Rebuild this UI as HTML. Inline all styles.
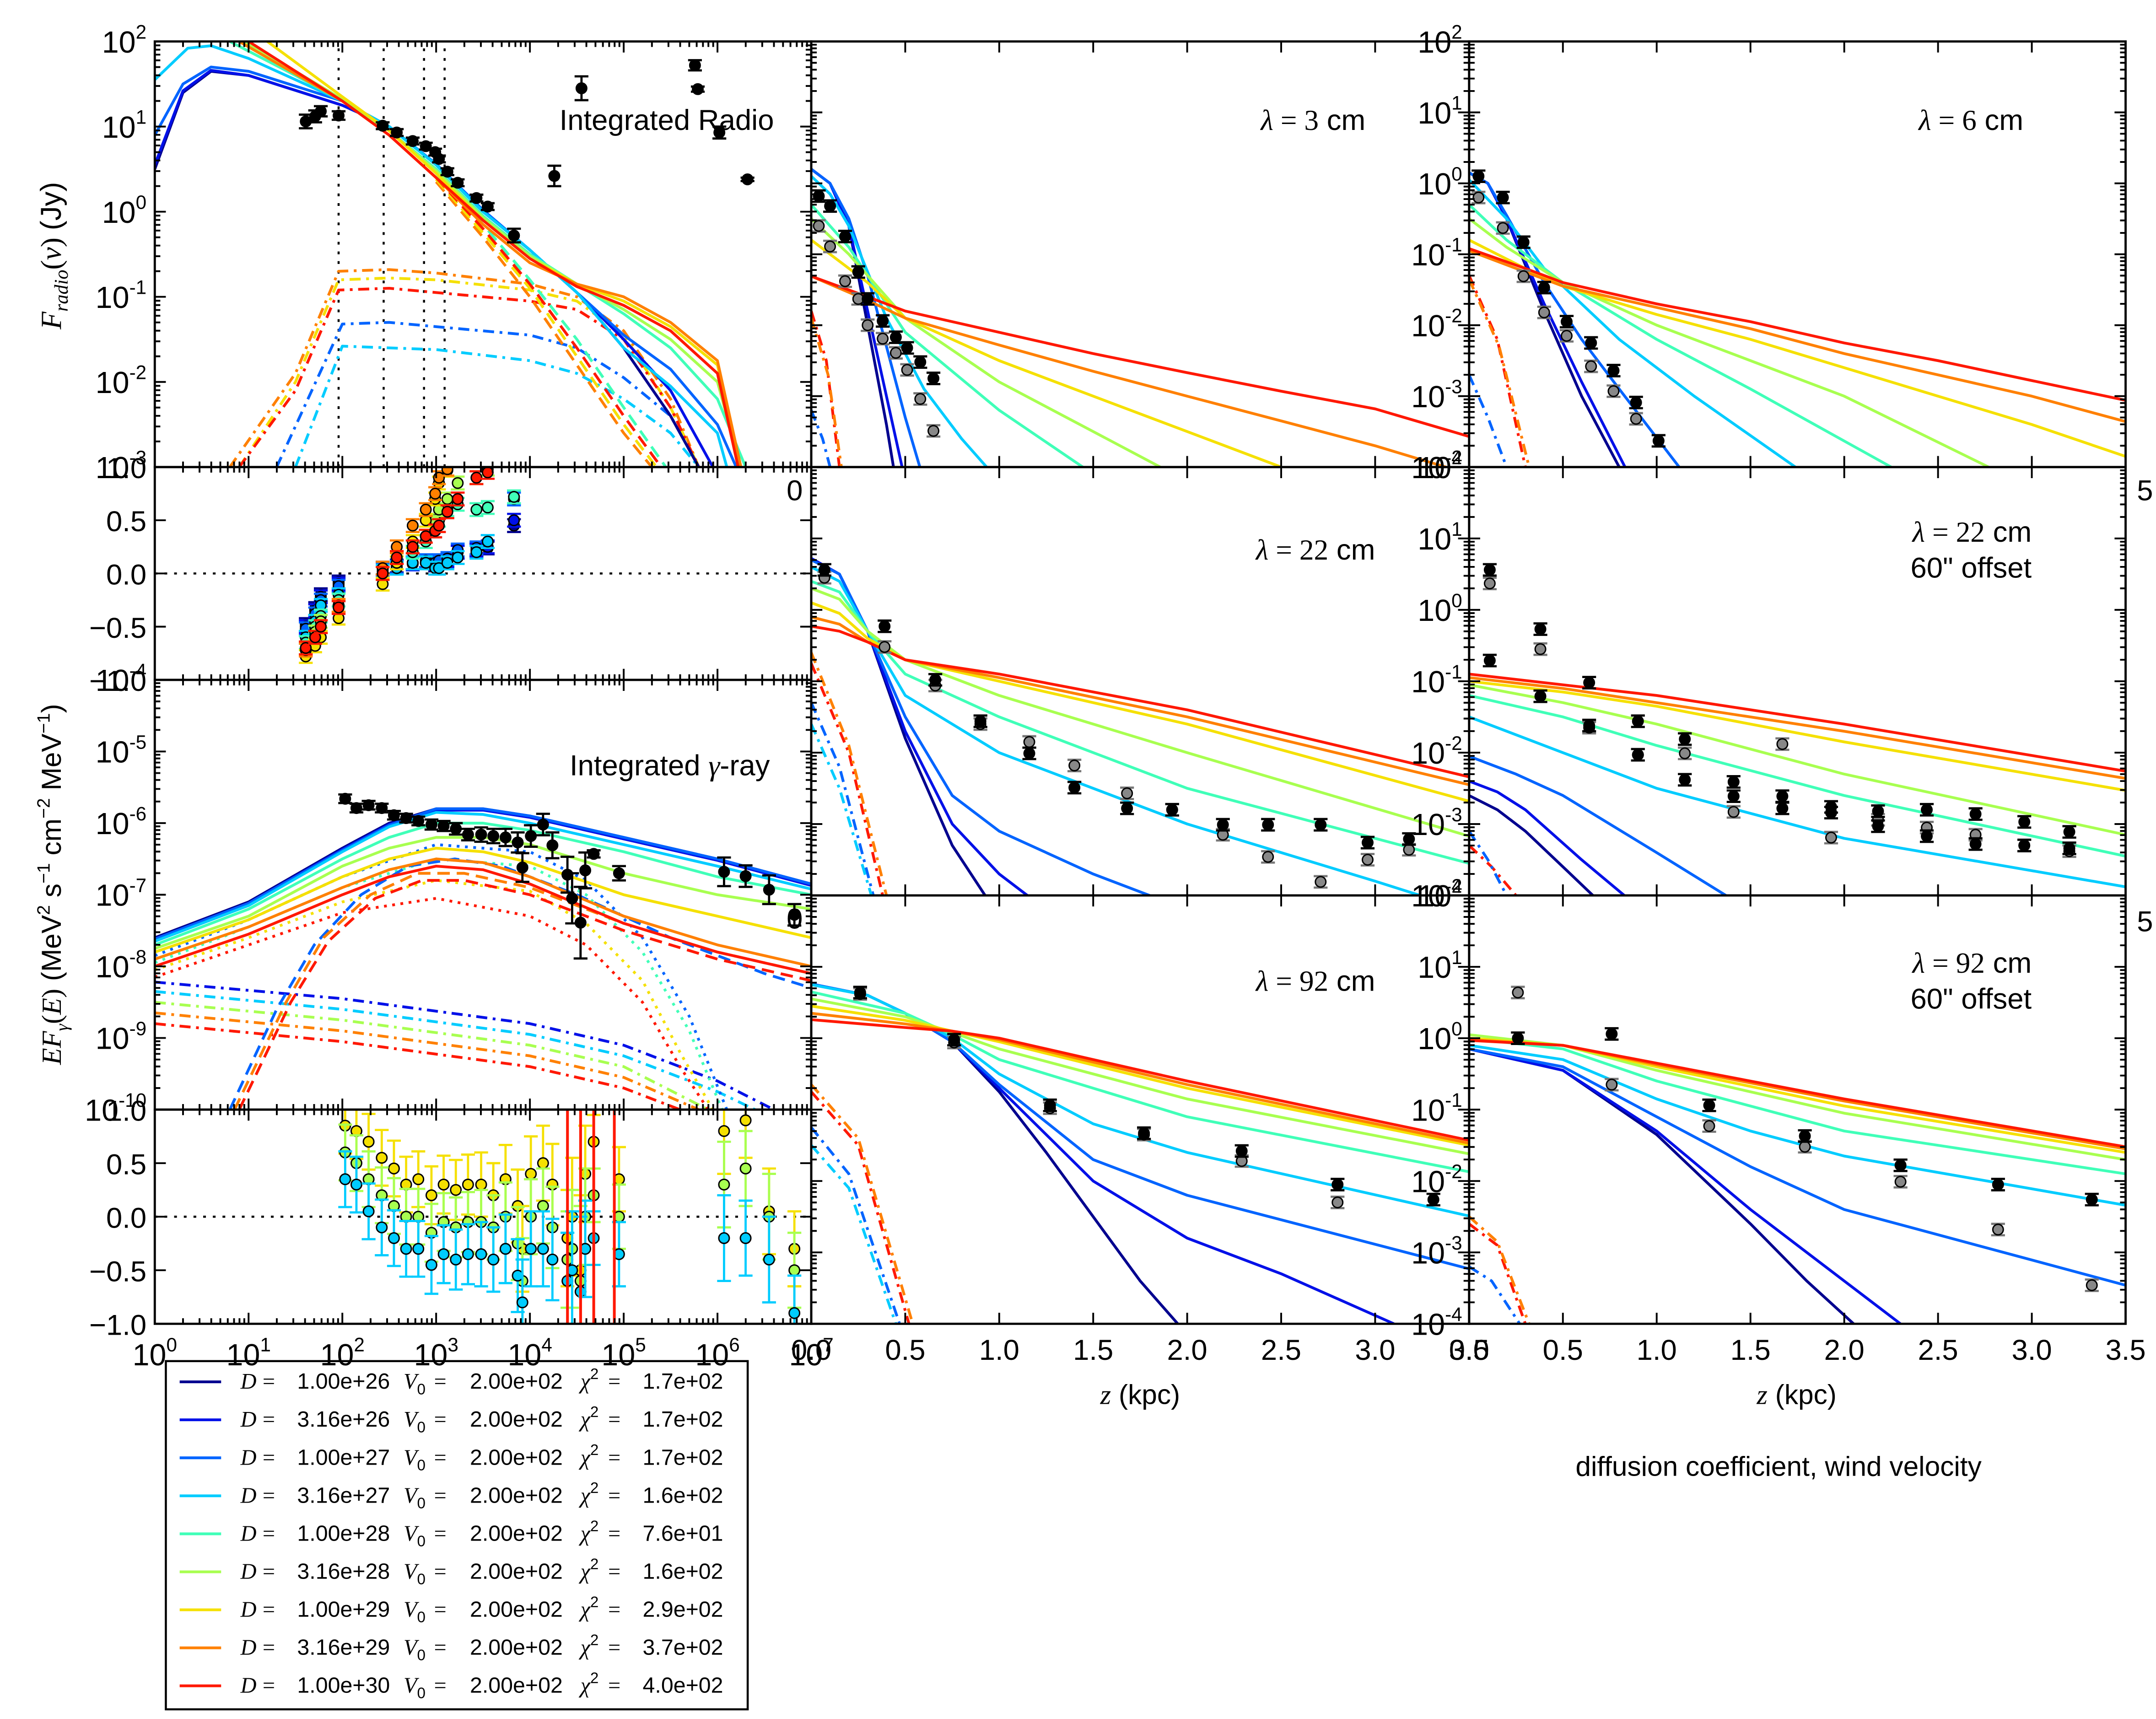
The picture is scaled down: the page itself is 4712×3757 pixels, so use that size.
<!DOCTYPE html>
<html><head><meta charset="utf-8"><style>
html,body{margin:0;padding:0;background:#fff;}
svg{display:block;font-family:"Liberation Sans","DejaVu Sans",sans-serif;}
</style></head><body>
<svg id="fig" xmlns="http://www.w3.org/2000/svg" width="4712" height="3757" viewBox="0 0 1560 1244" preserveAspectRatio="none">
<rect x="0" y="0" width="1560" height="1244" fill="#fff"/>
<defs id="defs"></defs>
<text transform="translate(44,185) rotate(-90)" text-anchor="middle" font-size="21" font-family="Liberation Serif,serif"><tspan font-style="italic">F</tspan><tspan font-style="italic" font-size="14" dy="5">radio</tspan><tspan dy="-5">(</tspan><tspan font-style="italic">ν</tspan>) <tspan font-family="Liberation Sans,sans-serif">(Jy)</tspan></text>
<text transform="translate(44,640) rotate(-90)" text-anchor="middle" font-size="20"><tspan font-family="Liberation Serif,serif" font-style="italic">EF</tspan><tspan font-family="Liberation Serif,serif" font-style="italic" font-size="13" dy="5">γ</tspan><tspan dy="-5" font-family="Liberation Serif,serif">(</tspan><tspan font-family="Liberation Serif,serif" font-style="italic">E</tspan><tspan font-family="Liberation Serif,serif">)</tspan>   (MeV<tspan font-size="13" dy="-8">2</tspan><tspan dy="8"> s</tspan><tspan font-size="13" dy="-8">−1</tspan><tspan dy="8"> cm</tspan><tspan font-size="13" dy="-8">−2</tspan><tspan dy="8"> MeV</tspan><tspan font-size="13" dy="-8">−1</tspan><tspan dy="8">)</tspan></text>
<text x="560" y="94" text-anchor="end" font-size="21">Integrated Radio</text>
<text x="557" y="561" text-anchor="end" font-size="21">Integrated <tspan font-family="Liberation Serif,serif" font-style="italic">γ</tspan>-ray</text>
<text x="988" y="94" text-anchor="end" font-size="21"><tspan font-family="Liberation Serif,serif" font-style="italic">λ</tspan><tspan font-family="Liberation Serif,serif"> = 3</tspan> cm</text>
<text x="1464" y="94" text-anchor="end" font-size="21"><tspan font-family="Liberation Serif,serif" font-style="italic">λ</tspan><tspan font-family="Liberation Serif,serif"> = 6</tspan> cm</text>
<text x="995" y="405" text-anchor="end" font-size="21"><tspan font-family="Liberation Serif,serif" font-style="italic">λ</tspan><tspan font-family="Liberation Serif,serif"> = 22</tspan> cm</text>
<text x="1470" y="392" text-anchor="end" font-size="21"><tspan font-family="Liberation Serif,serif" font-style="italic">λ</tspan><tspan font-family="Liberation Serif,serif"> = 22</tspan> cm</text>
<text x="1470" y="418" text-anchor="end" font-size="21">60" offset</text>
<text x="995" y="717" text-anchor="end" font-size="21"><tspan font-family="Liberation Serif,serif" font-style="italic">λ</tspan><tspan font-family="Liberation Serif,serif"> = 92</tspan> cm</text>
<text x="1470" y="704" text-anchor="end" font-size="21"><tspan font-family="Liberation Serif,serif" font-style="italic">λ</tspan><tspan font-family="Liberation Serif,serif"> = 92</tspan> cm</text>
<text x="1470" y="730" text-anchor="end" font-size="21">60" offset</text>
<text x="825" y="1016" text-anchor="middle" font-size="20"><tspan font-family="Liberation Serif,serif" font-style="italic">z</tspan> (kpc)</text>
<text x="1300" y="1016" text-anchor="middle" font-size="20"><tspan font-family="Liberation Serif,serif" font-style="italic">z</tspan> (kpc)</text>
<text x="1140" y="1068" font-size="20">diffusion coefficient, wind velocity</text>
<g id="legend">
<rect x="120" y="985" width="421" height="252" fill="#fff" stroke="#000" stroke-width="1.5"/>
</g>
</svg>
<script>
const NS='http://www.w3.org/2000/svg';
const svg=document.getElementById('fig');
const defs=document.getElementById('defs');
const colors=['#00008f','#0010e8','#0064ff','#00ccff','#40ffb8','#a8ff50','#f5e000','#ff8000','#ff1800'];
const Dvals=['1.00e+26','3.16e+26','1.00e+27','3.16e+27','1.00e+28','3.16e+28','1.00e+29','3.16e+29','1.00e+30'];
const chi2=['1.7e+02','1.7e+02','1.7e+02','1.6e+02','7.6e+01','1.6e+02','2.9e+02','3.7e+02','4.0e+02'];

const radModels=[
 [[0,0.5],[0.3,1.4],[0.6,1.65],[1,1.6],[2,1.25],[2.5,1.0],[3,0.55],[3.5,0.0],[4,-0.45],[4.5,-0.95],[5,-1.6],[5.5,-2.4],[5.8,-3]],
 [[0,0.55],[0.3,1.42],[0.6,1.66],[1,1.6],[2,1.25],[2.5,1.0],[3,0.55],[3.5,0.0],[4,-0.45],[4.5,-0.95],[5,-1.5],[5.5,-2.1],[5.95,-3]],
 [[0,0.9],[0.3,1.5],[0.6,1.7],[1,1.65],[2,1.3],[2.5,1.0],[3,0.56],[3.5,0.02],[4,-0.45],[4.5,-0.95],[5,-1.45],[5.5,-1.85],[6,-2.5],[6.2,-3]],
 [[0,1.55],[0.35,1.92],[0.6,1.95],[1,1.8],[2,1.3],[2.5,1.0],[3,0.55],[3.5,0.0],[4,-0.45],[4.5,-0.95],[5,-1.6],[5.5,-2.05],[6,-2.6],[6.1,-3]],
 [[0.8,2],[1.5,1.6],[2,1.3],[2.5,0.95],[3,0.5],[3.5,-0.05],[4,-0.5],[4.5,-0.85],[5,-1.2],[5.5,-1.6],[6,-2.2],[6.3,-3]],
 [[0.95,2],[1.5,1.65],[2,1.32],[2.5,0.95],[3,0.48],[3.5,-0.07],[4,-0.52],[4.5,-0.85],[5,-1.15],[5.5,-1.5],[6,-2.0],[6.25,-3]],
 [[1.2,2],[2,1.35],[2.5,0.95],[3,0.45],[3.5,-0.1],[4,-0.55],[4.5,-0.85],[5,-1.05],[5.5,-1.35],[6,-1.8],[6.25,-3]],
 [[0.9,2],[2,1.3],[2.5,0.9],[3,0.4],[3.5,-0.15],[4,-0.6],[4.5,-0.85],[5,-1.0],[5.5,-1.3],[6,-1.75],[6.25,-3]],
 [[1.0,2],[2,1.3],[2.5,0.9],[3,0.4],[3.5,-0.1],[4,-0.55],[4.5,-0.88],[5,-1.1],[5.5,-1.4],[6,-1.9],[6.22,-3]]
];
const radDashDot=[
 {c:7,p:[[0.8,-3],[1.5,-1.9],[1.96,-0.7],[2.5,-0.68],[3,-0.72],[4,-0.85],[4.5,-1.0],[5,-1.4],[5.5,-2.2],[5.8,-3]]},
 {c:6,p:[[0.9,-3],[1.5,-2.0],[1.96,-0.8],[2.5,-0.78],[3,-0.8],[4,-0.92],[4.5,-1.05],[5,-1.45],[5.5,-2.3],[5.8,-3]]},
 {c:8,p:[[0.9,-3],[1.5,-2.1],[1.96,-0.92],[2.5,-0.9],[3,-0.95],[4,-1.05],[4.5,-1.15],[5,-1.5],[5.5,-2.3],[5.8,-3]]},
 {c:2,p:[[1.3,-3],[2,-1.32],[2.5,-1.3],[3,-1.35],[4,-1.45],[4.5,-1.6],[5,-1.95],[5.5,-2.4],[5.8,-3]]},
 {c:3,p:[[1.5,-3],[2,-1.58],[3,-1.62],[4,-1.75],[4.5,-1.9],[5,-2.2],[5.5,-2.6],[5.8,-3]]}
];
const radDashed=[
 {c:7,p:[[3,0.35],[3.5,-0.3],[4,-1.0],[4.5,-1.8],[5,-2.6],[5.3,-3]]},
 {c:6,p:[[3,0.38],[3.5,-0.25],[4,-0.9],[4.5,-1.7],[5,-2.5],[5.35,-3]]},
 {c:8,p:[[3,0.4],[3.5,-0.2],[4,-0.85],[4.5,-1.6],[5,-2.4],[5.4,-3]]},
 {c:4,p:[[3,0.45],[3.5,-0.15],[4,-0.8],[4.5,-1.5],[5,-2.3],[5.45,-3]]}
];
const radDataX=[1.61,1.71,1.77,1.96,2.43,2.58,2.75,2.89,2.99,3.03,3.12,3.23,3.43,3.55,3.83,4.26,4.55,5.76,5.79,6.02,6.32];
const radDataY=[1.06,1.12,1.18,1.13,1.01,0.93,0.83,0.77,0.70,0.62,0.47,0.34,0.16,0.06,-0.28,0.42,1.45,1.72,1.44,0.93,0.38];
const radDataErr=[0.08,0.07,0.06,0.05,0.04,0.04,0.04,0.04,0.04,0.04,0.04,0.04,0.04,0.04,0.08,0.12,0.14,0.06,0.03,0.07,0.02];
const radLines=[1.96,2.44,2.87,3.09];

const radResX=[1.61,1.71,1.77,1.96,2.43,2.58,2.75,2.89,2.99,3.03,3.12,3.23,3.43,3.55,3.83];
const radRes=[
 [-0.48,-0.33,-0.2,-0.08,0.05,0.07,0.1,0.1,0.08,0.1,0.12,0.2,0.22,0.24,0.45],
 [-0.5,-0.35,-0.22,-0.1,0.05,0.06,0.09,0.1,0.1,0.1,0.12,0.2,0.22,0.25,0.5],
 [-0.52,-0.38,-0.25,-0.12,0.04,0.06,0.1,0.12,0.1,0.12,0.14,0.22,0.24,0.3,0.7],
 [-0.6,-0.45,-0.3,-0.2,0.02,0.05,0.1,0.1,0.05,0.05,0.1,0.15,0.2,0.3,0.72],
 [-0.65,-0.5,-0.4,-0.25,0.0,0.1,0.2,0.3,0.4,0.5,0.6,0.65,0.6,0.62,0.72],
 [-0.7,-0.55,-0.45,-0.3,0.0,0.15,0.25,0.35,0.5,0.6,0.7,0.85,0.9,0.98,1.2],
 [-0.78,-0.68,-0.6,-0.42,-0.1,0.1,0.3,0.5,0.7,0.85,0.97,1.1,1.2,1.2,1.3],
 [-0.72,-0.6,-0.5,-0.3,0.05,0.25,0.45,0.6,0.75,0.9,0.98,1.1,1.2,1.3,1.4],
 [-0.7,-0.6,-0.5,-0.32,0.0,0.15,0.25,0.35,0.4,0.45,0.58,0.7,0.9,0.95,1.2]
];

const gamModels=[
 [[0,-7.6],[1,-7.1],[2,-6.35],[2.5,-6.0],[3,-5.8],[3.5,-5.8],[4,-5.9],[5,-6.2],[6,-6.5],[7,-6.85]],
 [[0,-7.62],[1,-7.12],[2,-6.37],[2.5,-6.02],[3,-5.82],[3.5,-5.82],[4,-5.92],[5,-6.22],[6,-6.52],[7,-6.87]],
 [[0,-7.62],[1,-7.12],[2,-6.38],[2.5,-6.03],[3,-5.8],[3.5,-5.8],[4,-5.9],[5,-6.2],[6,-6.5],[7,-6.85]],
 [[0,-7.65],[1,-7.15],[2,-6.4],[2.5,-6.05],[3,-5.85],[3.5,-5.88],[4,-6.0],[5,-6.3],[6,-6.6],[7,-6.92]],
 [[0,-7.7],[1,-7.2],[2,-6.5],[2.5,-6.2],[3,-6.0],[3.5,-6.0],[4,-6.1],[5,-6.4],[6,-6.75],[7,-7.0]],
 [[0,-7.75],[1,-7.3],[2,-6.6],[2.5,-6.35],[3,-6.2],[3.5,-6.2],[4,-6.3],[5,-6.7],[6,-7.0],[7,-7.2]],
 [[0,-7.8],[1,-7.35],[2,-6.75],[2.5,-6.5],[3,-6.35],[3.5,-6.4],[4,-6.55],[5,-7.0],[6,-7.3],[7,-7.6]],
 [[0,-7.9],[1,-7.45],[2,-6.9],[2.5,-6.65],[3,-6.5],[3.5,-6.55],[4,-6.75],[5,-7.3],[6,-7.7],[7,-8.0]],
 [[0,-8.0],[1,-7.55],[2,-7.0],[2.5,-6.75],[3,-6.6],[3.5,-6.65],[4,-6.85],[5,-7.4],[6,-7.8],[7,-8.1]]
];
const gamPion=[
 {c:2,p:[[0.8,-10],[1.3,-8.6],[1.7,-7.7],[2.2,-7.0],[2.7,-6.6],[3.2,-6.5],[3.7,-6.6],[4.5,-7.0],[5.5,-7.6],[6.5,-8.1],[7,-8.3]]},
 {c:7,p:[[0.85,-10],[1.4,-8.5],[1.8,-7.6],[2.3,-7.0],[2.8,-6.7],[3.3,-6.7],[4,-6.9],[5,-7.4],[6,-7.8],[7,-8.1]]},
 {c:8,p:[[0.9,-10],[1.45,-8.5],[1.85,-7.65],[2.35,-7.05],[2.85,-6.8],[3.3,-6.8],[4,-7.0],[5,-7.5],[6,-7.9],[7,-8.2]]}
];
const gamIC=[
 {c:2,p:[[0,-7.85],[1,-7.35],[2,-6.75],[3,-6.3],[4,-6.4],[4.6,-6.8],[5.2,-7.6],[5.7,-8.7],[6.1,-10]]},
 {c:4,p:[[0,-7.95],[1,-7.45],[2,-6.9],[3,-6.5],[4,-6.6],[4.6,-7.0],[5.2,-7.8],[5.7,-8.9],[6.05,-10]]},
 {c:6,p:[[0,-8.05],[1,-7.6],[2,-7.1],[3,-6.8],[4,-6.95],[4.6,-7.4],[5.2,-8.2],[5.6,-9.2],[5.95,-10]]},
 {c:8,p:[[0,-8.15],[1,-7.7],[2,-7.25],[3,-7.05],[4,-7.3],[4.6,-7.7],[5.2,-8.5],[5.6,-9.4],[5.9,-10]]}
];
const gamBrems=[
 {c:1,p:[[0,-8.22],[2,-8.45],[4,-8.8],[5,-9.1],[6,-9.6],[6.6,-10]]},
 {c:3,p:[[0,-8.35],[2,-8.6],[4,-8.95],[5,-9.25],[6,-9.75],[6.4,-10]]},
 {c:5,p:[[0,-8.5],[2,-8.75],[4,-9.1],[5,-9.4],[5.9,-10]]},
 {c:7,p:[[0,-8.65],[2,-8.9],[4,-9.25],[5,-9.55],[5.8,-10]]},
 {c:8,p:[[0,-8.8],[2,-9.05],[4,-9.4],[5,-9.7],[5.6,-10]]}
];
const gDataX=[2.03,2.15,2.28,2.42,2.55,2.68,2.81,2.95,3.08,3.21,3.34,3.48,3.61,3.74,3.87,3.92,4.01,4.14,4.24,4.40,4.45,4.54,4.59,4.68,4.95,6.07,6.30,6.55,6.82];
const gDataY=[-5.66,-5.79,-5.75,-5.79,-5.89,-5.93,-5.97,-6.02,-6.04,-6.08,-6.16,-6.16,-6.18,-6.20,-6.27,-6.62,-6.18,-6.02,-6.31,-6.72,-7.05,-7.39,-6.66,-6.43,-6.70,-6.68,-6.74,-6.93,-7.28];
const gDataErr=[0.06,0.06,0.06,0.06,0.06,0.06,0.06,0.07,0.07,0.08,0.08,0.1,0.1,0.12,0.14,0.2,0.15,0.15,0.18,0.25,0.35,0.5,0.25,0.05,0.1,0.2,0.15,0.2,0.15];
const gResBlue=[0.35,0.3,0.05,-0.1,-0.2,-0.3,-0.3,-0.45,-0.35,-0.4,-0.35,-0.35,-0.4,-0.3,-0.55,-0.8,-0.3,-0.3,-0.4,-0.6,-0.5,-0.7,-0.3,-0.2,-0.35,-0.2,-0.2,-0.4,-0.9];
const gResGreen=[0.6,0.5,0.35,0.2,0.1,0.0,0.0,-0.15,-0.05,-0.1,-0.05,-0.05,-0.1,0.0,-0.25,-0.6,0.0,0.1,-0.1,-0.4,-0.3,-0.6,0.0,0.2,0.0,0.3,0.45,0.0,-0.5];
const gResYellow=[0.85,0.8,0.7,0.55,0.45,0.3,0.35,0.2,0.3,0.25,0.3,0.3,0.2,0.35,0.1,-0.3,0.4,0.5,0.3,-0.2,0.0,-0.5,0.4,0.7,0.35,0.8,0.9,0.05,-0.3];

const prof3=[
 [[0,0.2],[0.1,0.0],[0.2,-0.6],[0.3,-2.0],[0.4,-3.4],[0.45,-4.2]],
 [[0,0.2],[0.1,0.0],[0.2,-0.6],[0.3,-1.8],[0.4,-3.0],[0.5,-4.2]],
 [[0,0.2],[0.1,0.0],[0.2,-0.5],[0.3,-1.3],[0.4,-2.3],[0.5,-3.3],[0.6,-4.2]],
 [[0,0.1],[0.1,-0.15],[0.2,-0.6],[0.4,-1.9],[0.6,-2.9],[0.8,-3.6],[1.0,-4.2]],
 [[0,-0.3],[0.2,-0.9],[0.5,-2.1],[1.0,-3.2],[1.5,-4.1]],
 [[0,-0.5],[0.2,-1.0],[0.5,-1.9],[1.0,-2.8],[1.5,-3.5],[2.0,-4.2]],
 [[0,-0.8],[0.3,-1.4],[0.5,-1.9],[1.0,-2.5],[1.5,-3.0],[2.0,-3.5],[2.5,-4.0],[3.0,-4.5]],
 [[0,-1.31],[0.3,-1.65],[0.5,-1.9],[1.0,-2.28],[1.5,-2.65],[2.0,-3.0],[2.5,-3.35],[3.0,-3.7],[3.5,-4.1]],
 [[0,-1.31],[0.3,-1.6],[0.5,-1.8],[1.0,-2.1],[1.5,-2.4],[2.0,-2.67],[2.5,-2.93],[3.0,-3.18],[3.5,-3.57]]
];
const prof6=[
 [[0,0.15],[0.1,0.0],[0.2,-0.5],[0.4,-1.8],[0.6,-3.0],[0.82,-4.1]],
 [[0,0.15],[0.1,0.0],[0.2,-0.5],[0.4,-1.7],[0.6,-2.8],[0.85,-4.1]],
 [[0,0.15],[0.1,0.0],[0.2,-0.45],[0.4,-1.4],[0.6,-2.2],[0.8,-2.9],[1.12,-4.0]],
 [[0,0.05],[0.2,-0.5],[0.4,-1.2],[0.8,-2.2],[1.2,-3.0],[1.74,-4.0]],
 [[0,-0.3],[0.2,-0.8],[0.5,-1.4],[1.0,-2.2],[1.5,-2.9],[2.25,-4.0]],
 [[0,-0.5],[0.2,-0.9],[0.5,-1.4],[1.0,-2.0],[1.5,-2.5],[2.0,-3.0],[2.77,-4.0]],
 [[0,-0.8],[0.3,-1.2],[0.5,-1.45],[1.0,-1.85],[1.5,-2.2],[2.0,-2.6],[2.5,-3.0],[3.0,-3.4],[3.5,-3.85]],
 [[0,-0.95],[0.3,-1.25],[0.5,-1.45],[1.0,-1.75],[1.5,-2.05],[2.0,-2.4],[2.5,-2.7],[3.0,-3.0],[3.5,-3.36]],
 [[0,-0.92],[0.3,-1.2],[0.5,-1.4],[1.0,-1.7],[1.5,-1.95],[2.0,-2.25],[2.5,-2.5],[3.0,-2.78],[3.5,-3.06]]
];
const prof22=[
 [[0,0.72],[0.15,0.5],[0.3,-0.3],[0.5,-1.8],[0.75,-3.3],[0.95,-4.1]],
 [[0,0.72],[0.15,0.5],[0.3,-0.3],[0.5,-1.7],[0.75,-3.0],[1.0,-3.7],[1.2,-4.1]],
 [[0,0.7],[0.15,0.5],[0.3,-0.3],[0.5,-1.5],[0.75,-2.6],[1.0,-3.1],[1.5,-3.7],[1.85,-4.05]],
 [[0,0.6],[0.15,0.4],[0.3,-0.3],[0.5,-1.2],[1.0,-2.0],[2.0,-3.0],[3.0,-3.8],[3.3,-4.05]],
 [[0,0.4],[0.15,0.25],[0.3,-0.3],[0.5,-0.9],[1.0,-1.5],[2.0,-2.5],[3.5,-3.55]],
 [[0,0.3],[0.15,0.15],[0.3,-0.3],[0.5,-0.7],[1.0,-1.2],[2.0,-2.0],[3.5,-3.17]],
 [[0,0.1],[0.15,-0.05],[0.3,-0.4],[0.5,-0.7],[1.0,-1.0],[2.0,-1.6],[3.5,-2.68]],
 [[0,-0.1],[0.15,-0.2],[0.3,-0.45],[0.5,-0.7],[1.0,-0.95],[2.0,-1.5],[3.5,-2.45]],
 [[0,-0.23],[0.15,-0.3],[0.3,-0.45],[0.5,-0.7],[1.0,-0.9],[2.0,-1.4],[3.5,-2.34]]
];
const prof22o=[
 [[0,-2.6],[0.15,-2.8],[0.3,-3.1],[0.5,-3.6],[0.7,-4.1]],
 [[0,-2.4],[0.15,-2.55],[0.3,-2.8],[0.6,-3.5],[0.85,-4.05]],
 [[0,-2.05],[0.25,-2.3],[0.5,-2.6],[1.0,-3.4],[1.4,-4.05]],
 [[0,-1.5],[0.5,-2.0],[1.0,-2.5],[2.0,-3.2],[3.5,-3.88]],
 [[0,-1.2],[0.5,-1.5],[1.0,-1.9],[2.0,-2.6],[3.5,-3.45]],
 [[0,-1.05],[0.5,-1.3],[1.0,-1.6],[2.0,-2.3],[3.5,-3.15]],
 [[0,-1.0],[0.5,-1.15],[1.0,-1.35],[2.0,-1.85],[3.5,-2.53]],
 [[0,-0.95],[0.5,-1.1],[1.0,-1.3],[2.0,-1.7],[3.5,-2.36]],
 [[0,-0.9],[0.5,-1.05],[1.0,-1.2],[2.0,-1.6],[3.5,-2.26]]
];
const prof92=[
 [[0,0.76],[0.3,0.6],[0.5,0.35],[0.75,-0.05],[1.0,-0.75],[1.25,-1.6],[1.5,-2.5],[1.75,-3.4],[1.95,-4.0]],
 [[0,0.76],[0.3,0.6],[0.5,0.35],[0.75,-0.05],[1.0,-0.7],[1.5,-2.0],[2.0,-2.8],[2.5,-3.3],[3.1,-4.0]],
 [[0,0.76],[0.3,0.6],[0.5,0.35],[0.75,-0.05],[1.0,-0.65],[1.5,-1.7],[2.0,-2.2],[3.5,-3.23]],
 [[0,0.75],[0.3,0.6],[0.5,0.35],[0.75,0.0],[1.0,-0.5],[1.5,-1.2],[2.0,-1.6],[3.5,-2.49]],
 [[0,0.65],[0.5,0.35],[0.75,0.05],[1.0,-0.3],[2.0,-1.1],[3.5,-1.87]],
 [[0,0.55],[0.5,0.3],[0.75,0.08],[1.0,-0.15],[2.0,-0.85],[3.5,-1.62]],
 [[0,0.45],[0.5,0.25],[0.75,0.1],[1.0,-0.05],[2.0,-0.7],[3.5,-1.5]],
 [[0,0.35],[0.5,0.2],[0.75,0.1],[1.0,-0.02],[2.0,-0.65],[3.5,-1.47]],
 [[0,0.26],[0.5,0.15],[0.75,0.1],[1.0,0.0],[2.0,-0.6],[3.5,-1.43]]
];
const prof92o=[
 [[0,-0.15],[0.5,-0.45],[1.0,-1.35],[1.5,-2.6],[1.8,-3.4],[2.05,-4.0]],
 [[0,-0.15],[0.5,-0.45],[1.0,-1.3],[1.5,-2.4],[2.0,-3.4],[2.3,-4.0]],
 [[0,-0.15],[0.5,-0.4],[1.0,-1.1],[1.5,-1.8],[2.0,-2.4],[3.5,-3.46]],
 [[0,-0.1],[0.5,-0.3],[1.0,-0.85],[1.5,-1.3],[2.0,-1.65],[3.5,-2.34]],
 [[0,0.0],[0.5,-0.15],[1.0,-0.6],[2.0,-1.3],[3.5,-1.9]],
 [[0,0.05],[0.5,-0.1],[1.0,-0.45],[2.0,-1.05],[3.5,-1.7]],
 [[0,0.0],[0.5,-0.1],[1.0,-0.4],[2.0,-0.95],[3.5,-1.6]],
 [[0,-0.02],[0.5,-0.1],[1.0,-0.37],[2.0,-0.88],[3.5,-1.55]],
 [[0,-0.03],[0.5,-0.1],[1.0,-0.35],[2.0,-0.85],[3.5,-1.52]]
];
const comp3=[{c:8,p:[[0,-1.8],[0.08,-2.5],[0.15,-4]]},{c:7,p:[[0,-1.9],[0.09,-2.7],[0.16,-4]]},{c:2,p:[[0,-3.2],[0.06,-3.6],[0.1,-4]]}];
const comp6=[{c:8,p:[[0,-1.3],[0.15,-2.2],[0.3,-4]]},{c:7,p:[[0,-1.35],[0.16,-2.3],[0.32,-4]]},{c:2,p:[[0,-2.7],[0.1,-3.3],[0.2,-4]]}];
const comp22=[{c:8,p:[[0,-0.75],[0.2,-2.0],[0.38,-4]]},{c:7,p:[[0,-0.6],[0.2,-1.9],[0.4,-4]]},{c:2,p:[[0,-1.3],[0.15,-2.2],[0.33,-4]]},{c:3,p:[[0,-1.6],[0.15,-2.5],[0.32,-4]]}];
const comp22o=[{c:8,p:[[0,-3.3],[0.12,-3.6],[0.25,-4]]},{c:2,p:[[0,-3.1],[0.1,-3.5],[0.2,-4]]}];
const comp92=[{c:8,p:[[0,-0.75],[0.25,-1.5],[0.52,-4]]},{c:7,p:[[0,-0.65],[0.25,-1.4],[0.54,-4]]},{c:2,p:[[0,-1.25],[0.2,-1.9],[0.47,-4]]},{c:3,p:[[0,-1.5],[0.2,-2.1],[0.45,-4]]}];
const comp92o=[{c:8,p:[[0,-2.6],[0.15,-2.9],[0.3,-4]]},{c:7,p:[[0,-2.5],[0.15,-2.85],[0.32,-4]]},{c:2,p:[[0,-3.2],[0.12,-3.4],[0.27,-4]]}];
const obs3Z=[0.04,0.10,0.18,0.25,0.30,0.38,0.45,0.51,0.58,0.65];
const obs3B=[-0.18,-0.32,-0.75,-1.25,-1.63,-1.94,-2.17,-2.32,-2.52,-2.75];
const obs3G=[-0.60,-0.89,-1.38,-1.63,-2.0,-2.19,-2.39,-2.63,-3.04,-3.49];
const obs6Z=[0.05,0.18,0.29,0.40,0.52,0.65,0.77,0.89,1.01];
const obs6B=[0.1,-0.2,-0.83,-1.47,-1.95,-2.25,-2.64,-3.09,-3.63];
const obs6G=[-0.2,-0.63,-1.31,-1.82,-2.15,-2.58,-2.93,-3.32,null];
const obs22Z=[0.07,0.39,0.66,0.90,1.16,1.40,1.68,1.92,2.19,2.43,2.71,2.96,3.18];
const obs22B=[0.56,-0.23,-0.98,-1.56,-2.01,-2.49,-2.78,-2.80,-3.01,-3.01,-3.01,-3.26,-3.21];
const obs22G=[0.45,-0.52,-1.06,-1.60,-1.85,-2.18,-2.57,-2.80,-3.15,-3.46,-3.81,-3.50,-3.36];
const obs22oZ=[0.11,0.38,0.64,0.90,1.15,1.41,1.67,1.93,2.18,2.44,2.70,2.96,3.20];
const obs22oB1=[0.56,-0.27,-1.02,-1.56,-1.81,-2.41,-2.61,-2.76,-2.82,-2.80,-2.86,-2.97,-3.11];
const obs22oB2=[-0.71,-1.21,-1.62,-2.03,-2.38,-2.61,-2.78,-2.84,-3.03,-3.17,-3.28,-3.30,-3.34];
const obs22oG=[0.37,-0.55,-1.65,-2.03,-2.01,-2.83,-1.88,-3.19,-2.94,-3.05,-3.15,-3.30,-3.38];
const obs92Z=[0.26,0.76,1.27,1.77,2.29,2.80,3.31];
const obs92B=[0.64,-0.02,-0.94,-1.33,-1.58,-2.05,-2.26];
const obs92G=[0.62,-0.06,-0.98,-1.35,-1.72,-2.30,null];
const obs92oZ=[0.26,0.76,1.28,1.79,2.30,2.82,3.32];
const obs92oB=[0.0,0.06,-0.94,-1.37,-1.78,-2.05,-2.26];
const obs92oG=[0.64,-0.65,-1.23,-1.52,-2.01,-2.68,-3.46];

function mk(tag,attrs,parent){const e=document.createElementNS(NS,tag);for(const k in attrs)e.setAttribute(k,attrs[k]);(parent||svg).appendChild(e);return e;}
const panels={
 rad:{x0:112,x1:587,y0:30,y1:338,xmin:0,xmax:7,ymin:-3,ymax:2,xlog:true,ylog:true},
 radres:{x0:112,x1:587,y0:338,y1:492,xmin:0,xmax:7,ymin:-1,ymax:1,xlog:true,ylog:false},
 gam:{x0:112,x1:587,y0:492,y1:803,xmin:0,xmax:7,ymin:-10,ymax:-4,xlog:true,ylog:true},
 gamres:{x0:112,x1:587,y0:803,y1:958,xmin:0,xmax:7,ymin:-1,ymax:1,xlog:true,ylog:false},
 p3:{x0:587,x1:1063,y0:30,y1:338,xmin:0,xmax:3.5,ymin:-4,ymax:2,ylog:true},
 p6:{x0:1063,x1:1538,y0:30,y1:338,xmin:0,xmax:3.5,ymin:-4,ymax:2,ylog:true},
 p22:{x0:587,x1:1063,y0:338,y1:648,xmin:0,xmax:3.5,ymin:-4,ymax:2,ylog:true},
 p22o:{x0:1063,x1:1538,y0:338,y1:648,xmin:0,xmax:3.5,ymin:-4,ymax:2,ylog:true},
 p92:{x0:587,x1:1063,y0:648,y1:958,xmin:0,xmax:3.5,ymin:-4,ymax:2,ylog:true},
 p92o:{x0:1063,x1:1538,y0:648,y1:958,xmin:0,xmax:3.5,ymin:-4,ymax:2,ylog:true}
};
function X(p,v){return p.x0+(v-p.xmin)/(p.xmax-p.xmin)*(p.x1-p.x0);}
function Y(p,v){return p.y1-(v-p.ymin)/(p.ymax-p.ymin)*(p.y1-p.y0);}
const groups={};
for(const k in panels){
 const p=panels[k];
 const cp=mk('clipPath',{id:'clip-'+k},defs);
 mk('rect',{x:p.x0,y:p.y0,width:p.x1-p.x0,height:p.y1-p.y0},cp);
 const g=mk('g',{'clip-path':'url(#clip-'+k+')'});
 
 
 groups[k]=g;
}
function line(k,pts,color,dash,w,name){
 const p=panels[k];
 const d=pts.map((q,i)=>(i?'L':'M')+X(p,q[0]).toFixed(1)+','+Y(p,q[1]).toFixed(1)).join(' ');
 const e=mk('path',{d:d,fill:'none',stroke:color,'stroke-width':w||2,'stroke-dasharray':dash||'none','stroke-linejoin':'round'},groups[k]);
 
 
 return e;
}
function point(k,x,y,err,fill,stroke,name,capColor){
 const p=panels[k];
 if(y===null||y===undefined)return;
 const cx=X(p,x),cy=Y(p,y);
 if(err){
  const y1=Y(p,y+err),y2=Y(p,y-err);
  const eb=mk('path',{d:'M'+cx+','+y1+' L'+cx+','+y2+' M'+(cx-5)+','+y1+' L'+(cx+5)+','+y1+' M'+(cx-5)+','+y2+' L'+(cx+5)+','+y2,stroke:capColor||stroke,'stroke-width':1.6,fill:'none'},groups[k]);
  
  
 }
 const c=mk('circle',{cx:cx,cy:cy,r:3.8,fill:fill,stroke:stroke,'stroke-width':1},groups[k]);
 
 
}
function supLabel(x,y,base,exp,anchor,name){
 const t=mk('text',{x:x,y:y,'text-anchor':anchor||'middle','font-size':22});
 
 
 t.appendChild(document.createTextNode(base));
 const s=mk('tspan',{'font-size':14,dy:-10},t);
 s.textContent=exp;
 return t;
}
function plainLabel(x,y,txt,anchor,name){
 const t=mk('text',{x:x,y:y,'text-anchor':anchor||'middle','font-size':21});
 
 
 t.textContent=txt;
}
function frameAndTicks(k){
 const p=panels[k];
 const tk=[];
 const addX=(v,len)=>{const x=X(p,v);tk.push('M'+x+','+p.y1+' L'+x+','+(p.y1-len)+' M'+x+','+p.y0+' L'+x+','+(p.y0+len));};
 const addY=(v,len)=>{const y=Y(p,v);tk.push('M'+p.x0+','+y+' L'+(p.x0+len)+','+y+' M'+p.x1+','+y+' L'+(p.x1-len)+','+y);};
 if(p.xlog){for(let d=p.xmin;d<=p.xmax;d++){addX(d,8);if(d<p.xmax)for(let m=2;m<10;m++)addX(d+Math.log10(m),4);}}
 else{for(let v=0;v<=3.5001;v+=0.5)addX(v,8);}
 if(p.ylog){for(let d=p.ymin;d<=p.ymax;d++){addY(d,8);if(d<p.ymax)for(let m=2;m<10;m++)addY(d+Math.log10(m),4);}}
 else{for(let v=-1;v<=1.0001;v+=0.5)addY(v,8);}
 const t=mk('path',{d:tk.join(' '),stroke:'#000','stroke-width':1.3,fill:'none'});
 
 
 const f=mk('rect',{x:p.x0,y:p.y0,width:p.x1-p.x0,height:p.y1-p.y0,fill:'none',stroke:'#000','stroke-width':1.6});
 
 
}

radLines.forEach((v,i)=>line('rad',[[v,-3],[v,2]],'#000','2,5',1.5,'frequency-marker-'+i));
radDashDot.forEach((s,i)=>line('rad',s.p,colors[s.c],'8,4,2,4',2,'radio-dashdot-'+i));
radDashed.forEach((s,i)=>line('rad',s.p,colors[s.c],'9,5',2,'radio-dashed-'+i));
radModels.forEach((m,i)=>line('rad',m,colors[i],null,2,'radio-model-'+i));
radDataX.forEach((x,i)=>point('rad',x,radDataY[i],radDataErr[i],'#000','#000','radio-data-'+i));
line('radres',[[0,0],[7,0]],'#000','2,5',1.5,'radio-residual-zero');
radRes.forEach((arr,c)=>arr.forEach((r,i)=>point('radres',radResX[i],r,0.06,colors[c],'#000','radio-residual-'+c+'-'+i,colors[c])));

gamBrems.forEach((s,i)=>line('gam',s.p,colors[s.c],'8,4,2,4',2,'gamma-brems-'+i));
gamIC.forEach((s,i)=>line('gam',s.p,colors[s.c],'2,4',2,'gamma-ic-'+i));
gamPion.forEach((s,i)=>line('gam',s.p,colors[s.c],'9,5',2,'gamma-pion-'+i));
gamModels.forEach((m,i)=>line('gam',m,colors[i],null,2,'gamma-model-'+i));
gDataX.forEach((x,i)=>point('gam',x,gDataY[i],gDataErr[i],'#000','#000','gamma-data-'+i));
line('gamres',[[0,0],[7,0]],'#000','2,5',1.5,'gamma-residual-zero');
[[gResYellow,6],[gResGreen,5],[gResBlue,3]].forEach(pair=>{const arr=pair[0],c=pair[1];arr.forEach((r,i)=>point('gamres',gDataX[i],r,0.2+gDataErr[i],colors[c],'#000','gamma-residual-'+c+'-'+i,colors[c]));});
[4.40,4.54,4.68,4.9].forEach((x,i)=>line('gamres',[[x,-1],[x,1]],colors[8],null,2,'gamma-residual-red-bar-'+i));

function profile(k,models,comps,zs,series,label){
 comps.forEach((s,i)=>line(k,s.p,colors[s.c],'8,4,2,4',2,label+'-component-'+i));
 models.forEach((m,i)=>line(k,m,colors[i],null,2,label+'-model-'+i));
 series.forEach(ser=>ser[0].forEach((v,i)=>point(k,zs[i],v,0.08,ser[1],'#000',label+'-obs-'+i,ser[2])));
}
profile('p3',prof3,comp3,obs3Z,[[obs3G,'#888','#777'],[obs3B,'#000','#000']],'3cm');
profile('p6',prof6,comp6,obs6Z,[[obs6G,'#888','#777'],[obs6B,'#000','#000']],'6cm');
profile('p22',prof22,comp22,obs22Z,[[obs22G,'#888','#777'],[obs22B,'#000','#000']],'22cm');
profile('p22o',prof22o,comp22o,obs22oZ,[[obs22oG,'#888','#777'],[obs22oB1,'#000','#000'],[obs22oB2,'#000','#000']],'22cm-offset');
profile('p92',prof92,comp92,obs92Z,[[obs92G,'#888','#777'],[obs92B,'#000','#000']],'92cm');
profile('p92o',prof92o,comp92o,obs92oZ,[[obs92oG,'#888','#777'],[obs92oB,'#000','#000']],'92cm-offset');

for(const k in panels)frameAndTicks(k);

const radYT=[2,1,0,-1,-2,-3];
radYT.forEach(e=>supLabel(106,Y(panels.rad,e)+8,'10',String(e),'end','radio-y-tick-'+e));
const resYT=['1.0','0.5','0.0','−0.5','−1.0'];
[1,0.5,0,-0.5,-1].forEach((v,i)=>{plainLabel(106,Y(panels.radres,v)+8,resYT[i],'end','radio-res-y-tick-'+i);plainLabel(106,Y(panels.gamres,v)+8,resYT[i],'end','gamma-res-y-tick-'+i);});
const gamYT=[-4,-5,-6,-7,-8,-9,-10];
gamYT.forEach(e=>supLabel(106,Y(panels.gam,e)+8,'10',String(e),'end','gamma-y-tick-'+e));
const xDec=[0,1,2,3,4,5,6,7];
xDec.forEach(e=>supLabel(X(panels.gamres,e),988,'10',String(e),'middle','energy-x-tick-'+e));
const zT=['0.0','0.5','1.0','1.5','2.0','2.5','3.0','3.5'];
zT.forEach((t,i)=>{plainLabel(X(panels.p92,i*0.5),984,t,'middle','z-tick-mid-'+i);plainLabel(X(panels.p92o,i*0.5),984,t,'middle','z-tick-right-'+i);});
const profYT=[2,1,0,-1,-2,-3,-4];
['p6','p22o','p92o'].forEach(k=>profYT.forEach(e=>supLabel(1058,Y(panels[k],e)+8,'10',String(e),'end','profile-y-tick-'+k+'-'+e)));
plainLabel(1552,362,'5','middle','cut-label-1');
plainLabel(1552,674,'5','middle','cut-label-2');
plainLabel(575,362,'0','middle','cut-label-3');
plainLabel(575,672,'0','middle','cut-label-4');

const leg=document.getElementById('legend');
Dvals.forEach((d,i)=>{
 const y=1000+i*27.5;
 const l=mk('line',{x1:130,y1:y,x2:160,y2:y,stroke:colors[i],'stroke-width':2},leg);
 
 
 const t=mk('text',{x:174,y:y+5,'font-size':16},leg);
 
 
 const add=(txt,attrs)=>{const s=mk('tspan',attrs,t);s.textContent=txt;};
 add('D',{x:174,'font-family':'Liberation Serif,serif','font-style':'italic'});
 add('=',{x:190,'font-family':'Liberation Serif,serif'});
 add(d,{x:215});
 add('V',{x:292,'font-family':'Liberation Serif,serif','font-style':'italic'});
 add('0',{'font-size':11,dy:4});
 add('=',{x:314,dy:-4,'font-family':'Liberation Serif,serif'});
 add('2.00e+02',{x:340});
 add('χ',{x:420,'font-family':'Liberation Serif,serif','font-style':'italic'});
 add('2',{'font-size':11,dy:-7});
 add('=',{x:440,dy:7,'font-family':'Liberation Serif,serif'});
 add(chi2[i],{x:465});
});
</script>
</body></html>
